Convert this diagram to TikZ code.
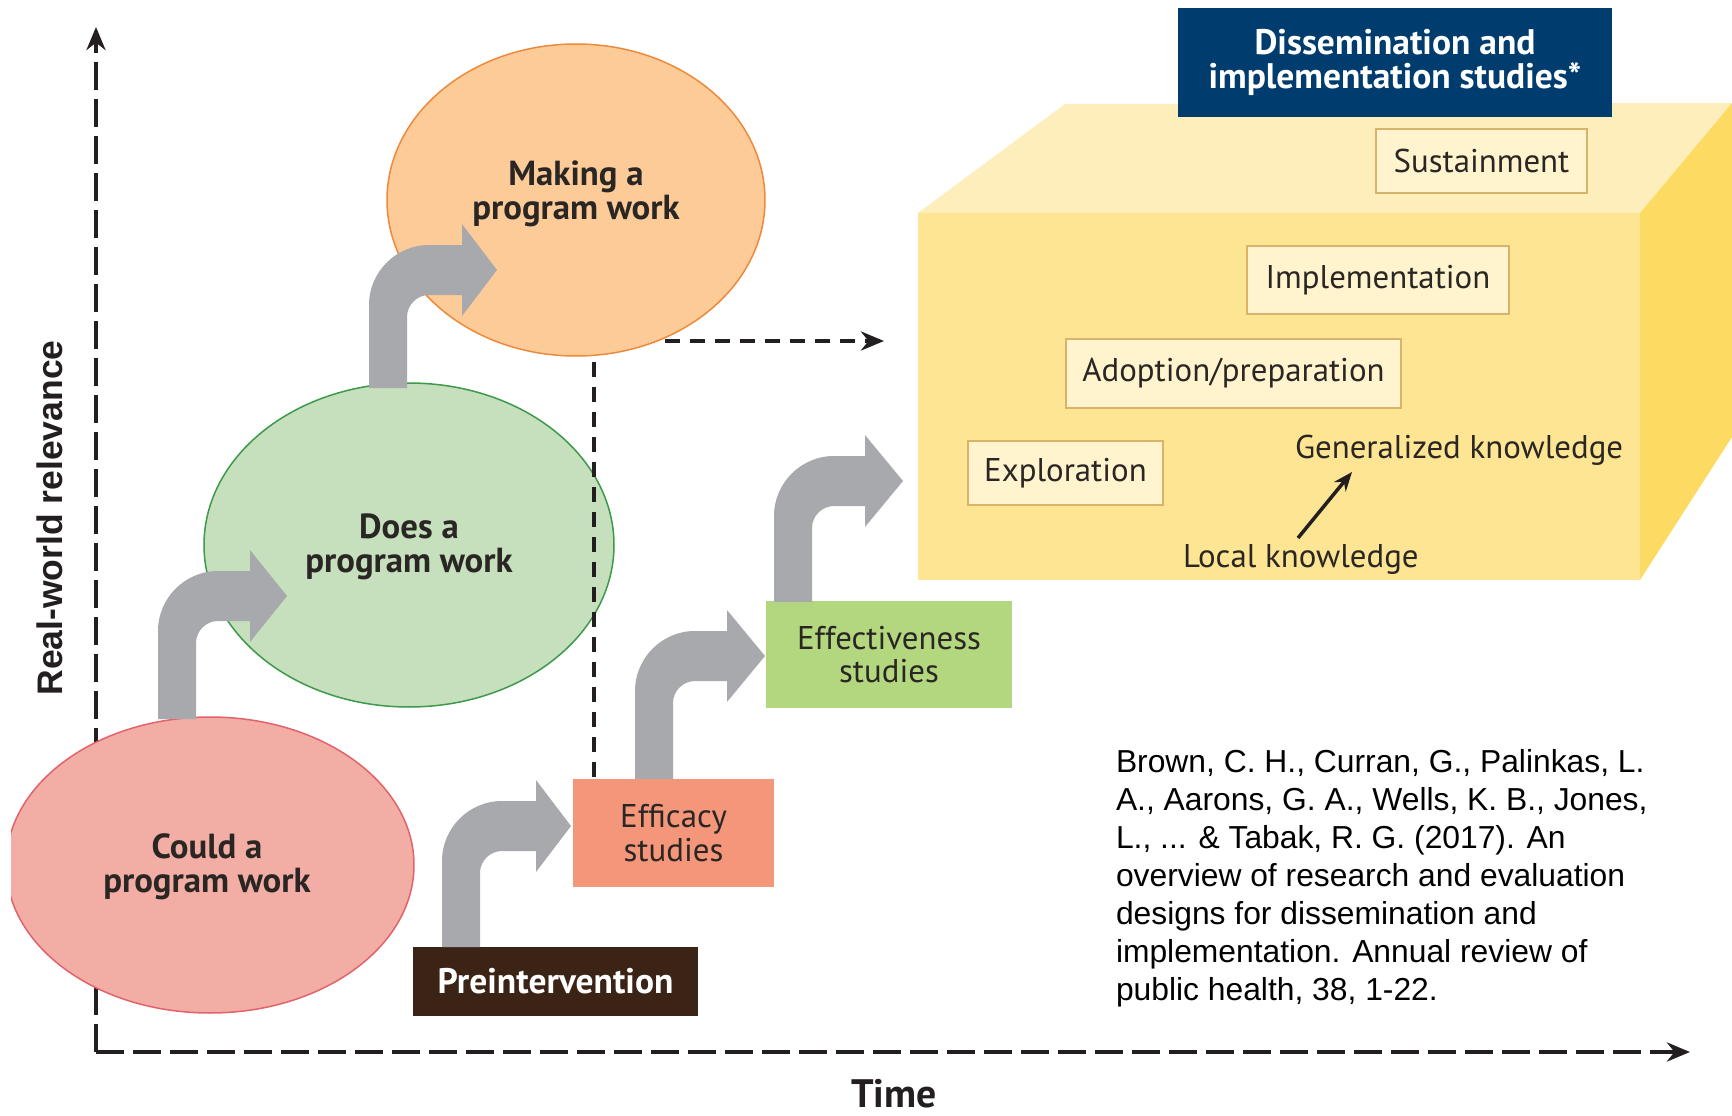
\documentclass[tikz,border=0pt]{standalone}
\usepackage{fontspec}
\usetikzlibrary{shapes.geometric,arrows.meta}
\newfontfamily\labfont{PT Sans}
\newfontfamily\citfont{Liberation Sans}
\definecolor{axcol}{HTML}{231F20}
\definecolor{orangeF}{HTML}{FCCB98}
\definecolor{orangeD}{HTML}{EF8A3C}
\definecolor{greenF}{HTML}{C6DFBD}
\definecolor{greenD}{HTML}{3E9A4B}
\definecolor{pinkF}{HTML}{F2ADA5}
\definecolor{pinkD}{HTML}{E2636C}
\definecolor{efficF}{HTML}{F4967A}
\definecolor{effectF}{HTML}{B3D77E}
\definecolor{preF}{HTML}{3B2415}
\definecolor{arrgray}{HTML}{A7A9AC}
\definecolor{navy}{HTML}{003D6E}
\definecolor{cubeFront}{HTML}{FEE593}
\definecolor{cubeTop}{HTML}{FDEEBB}
\definecolor{cubeSide}{HTML}{FDDB63}
\definecolor{creamF}{HTML}{FFF4CE}
\definecolor{creamD}{HTML}{D8B46A}
\definecolor{txt}{HTML}{2A2624}
% bent block arrow: #1 shaft left x, #2 shaft bottom y, #3 band centre y, #4 head base x, #5 tip x
\newcommand\BentArr[5]{%
  \fill[arrgray] (#1,#2) -- (#1,#3+35)
    .. controls (#1,#3+2) and (#1+27,#3-25) .. (#1+60,#3-25)
    -- (#4,#3-25) -- (#4,#3-46) -- (#5,#3) -- (#4,#3+46) -- (#4,#3+25)
    -- (#1+60,#3+25) .. controls (#1+48,#3+25) and (#1+38,#3+35) .. (#1+38,#3+47)
    -- (#1+38,#2) -- cycle;}
\begin{document}
\begin{tikzpicture}[x=0.1mm,y=-0.1mm,
  every node/.style={inner sep=0pt, outer sep=0pt},
  axisline/.style={draw=axcol, line width=0.45mm, dash pattern=on 2.8mm off 0.9mm},
  divline/.style={draw=axcol, line width=0.4mm, dash pattern=on 1.5mm off 1mm},
  tipA/.style={-{Stealth[length=2.3mm,width=1.9mm]}},
  oval/.style={ellipse, line width=0.15mm},
  boldlab/.style={font=\labfont\bfseries\fontsize{9.9}{9.7}\selectfont, text=txt, align=center},
  reglab/.style={font=\labfont\fontsize{9.35}{9.5}\selectfont, text=txt, align=center},
  cbox/.style={draw=creamD, fill=creamF, line width=0.15mm, reglab},
]
\useasboundingbox (0,0) rectangle (1732,1116);
\fill[white] (0,0) rectangle (1732,1116);

% cuboid
\fill[cubeTop] (918,213) -- (1065,104) -- (1732,103) -- (1640,213) -- cycle;
\fill[cubeSide] (1640,213) -- (1732,103) -- (1732,437) -- (1640,580) -- cycle;
\fill[cubeFront] (918,213) rectangle (1640,580);
\node[fill=navy, minimum width=43.4mm, minimum height=10.9mm, text=white,
  font=\labfont\bfseries\fontsize{10.1}{9.6}\selectfont, align=center] (dis) at (1395,62.5)
  {Dissemination and\\implementation studies*};
\node[cbox, minimum width=21.1mm, minimum height=6.4mm] (sus) at (1481.5,161) {Sustainment};
\node[cbox, minimum width=26.2mm, minimum height=6.8mm] (imp) at (1378,280) {Implementation};
\node[cbox, minimum width=33.5mm, minimum height=6.9mm] (ado) at (1233.5,373.5) {Adoption/preparation};
\node[cbox, minimum width=19.5mm, minimum height=6.4mm] (exp) at (1065.5,473) {Exploration};
\node[reglab, anchor=base west] (gen) at (1295,458) {Generalized knowledge};
\node[reglab, anchor=base west] (loc) at (1183,567) {Local knowledge};
\coordinate (lk) at (1298,538);
\coordinate (gk) at (1352,472);
\draw[axcol, line width=0.35mm, -{Stealth[length=1.9mm,width=1.5mm]}] (lk) -- (gk);

% axes
\coordinate (ytop) at (96,27);
\coordinate (orig) at (96,1052);
\coordinate (xend) at (1690,1052);
\draw[axisline, tipA] (orig) -- (ytop);
\draw[axisline, tipA] (orig) -- (xend);
\node[rotate=90, font=\citfont\bfseries\fontsize{10.1}{12}\selectfont, text=axcol] (rwr) at (50,518) {Real-world relevance};
\node[font=\labfont\bfseries\fontsize{11.3}{12}\selectfont, text=axcol] (time) at (894,1094) {Time};

% ellipses
\begin{scope}
\clip (11,0) rectangle (1732,1116);
\node[oval, draw=pinkD, fill=pinkF, minimum width=40.8mm, minimum height=29.6mm] (could) at (210,865) {};
\end{scope}
\node[oval, draw=greenD, fill=greenF, minimum width=41mm, minimum height=32.4mm] (does) at (409,545) {};

% divider
\coordinate (dv1) at (594,362);
\coordinate (dv2) at (594,779);
\coordinate (dh1) at (640,341);
\coordinate (dh2) at (884,341);
\draw[divline] (dv1) -- (dv2);
\draw[divline, tipA] (dh1) -- (dh2);

\node[oval, draw=orangeD, fill=orangeF, minimum width=37.8mm, minimum height=31.2mm] (make) at (576,200) {};

\node[boldlab] (makeL) at (576,194) {Making a\\program work};
\node[boldlab] (doesL) at (409,547) {Does a\\program work};
\node[boldlab] (couldL) at (207,867) {Could a\\program work};

% boxes
\node[fill=preF, minimum width=28.5mm, minimum height=6.9mm, text=white,
  font=\labfont\bfseries\fontsize{10.1}{10}\selectfont] (pre) at (555.5,981.5) {Preintervention};
\node[fill=efficF, minimum width=20.1mm, minimum height=10.8mm, reglab] (effic) at (673.5,833) {Efficacy\\studies};
\node[fill=effectF, minimum width=24.6mm, minimum height=10.7mm, reglab] (effect) at (889,654.5) {Effectiveness\\studies};

% bent arrows
\BentArr{158}{719}{596}{250}{287}
\BentArr{369}{388}{270}{462}{497}
\BentArr{442}{947}{826}{536}{571}
\BentArr{635}{779}{656}{727}{765}
\BentArr{774}{602}{481}{865}{903}

% citation
\node[anchor=north west, align=left, font=\citfont\fontsize{9.05}{10.84}\selectfont, text=black] (cite) at (1116,749)
{Brown, C. H., Curran, G., Palinkas, L.\\
A., Aarons, G. A., Wells, K. B., Jones,\\
L., ... \& Tabak, R. G. (2017). An\\
overview of research and evaluation\\
designs for dissemination and\\
implementation. Annual review of\\
public health, 38, 1-22.};
\end{tikzpicture}
\end{document}
